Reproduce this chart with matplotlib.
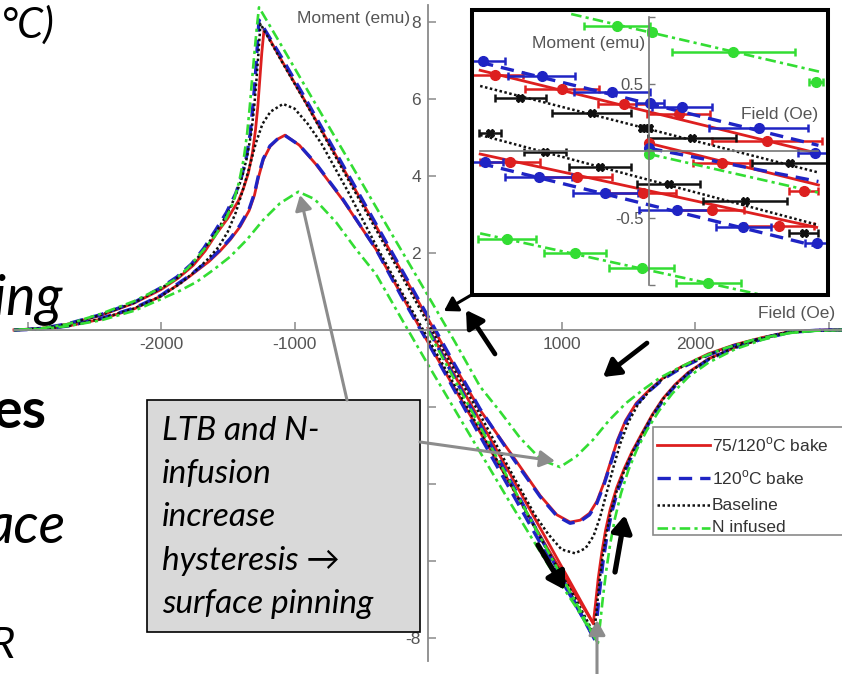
import matplotlib
matplotlib.use("Agg")
import matplotlib.pyplot as plt
from matplotlib.patches import Rectangle, FancyArrowPatch
from matplotlib.lines import Line2D

plt.rcParams['font.family'] = ['Liberation Sans', 'DejaVu Sans']
plt.rcParams['mathtext.fontset'] = 'custom'
plt.rcParams['mathtext.rm'] = 'Liberation Sans'

# ---------------- main loop data (Field in Oe, Moment in emu) ----------------
# field-decreasing branches (from +H to -H)
H_dec_red = [3100, 2900, 2700, 2500, 2300, 2100, 1900, 1760, 1660, 1560, 1480, 1420, 1370, 1320, 1265, 1210, 1140, 1064, 965, 840, 640, 390, 200, 0,
             -300, -600, -900, -1100, -1228, -1245, -1260, -1275, -1292, -1315, -1346, -1385, -1421, -1500, -1583, -1670, -1758, -1870, -2000, -2200, -2450, -2700, -2900, -3100]
M_dec_red = [0.0, -0.01, -0.05, -0.2, -0.38, -0.62, -0.95, -1.25, -1.55, -1.9, -2.35, -2.85, -3.4, -3.95, -4.45, -4.76, -4.94, -4.99, -4.8, -4.3, -3.3, -2.08, -0.95, 0.29,
             2.15, 3.98, 5.82, 7.02, 7.81, 7.2, 6.5, 5.8, 5.2, 4.6, 4.07, 3.65, 3.35, 2.9, 2.51, 2.05, 1.68, 1.35, 1.05, 0.7, 0.38, 0.15, 0.04, 0.0]
H_inc_red = [-3100, -2900, -2700, -2450, -2200, -2000, -1858, -1790, -1708, -1640, -1558, -1480, -1408, -1340, -1300, -1271, -1234, -1184, -1130, -1071, -964, -839, -639, -390, -200, 0,
             300, 600, 900, 1100, 1238, 1255, 1275, 1301, 1330, 1365, 1413, 1470, 1530, 1600, 1680, 1760, 1850, 1950, 2100, 2300, 2500, 2700, 2900, 3100]
M_inc_red = [0.0, 0.02, 0.1, 0.28, 0.55, 0.88, 1.21, 1.38, 1.6, 1.78, 2.05, 2.35, 2.68, 3.1, 3.5, 3.95, 4.42, 4.76, 4.95, 5.06, 4.8, 4.3, 3.38, 2.1, 0.92, -0.32,
             -2.12, -3.9, -5.7, -6.85, -7.62, -7.1, -6.45, -5.8, -5.2, -4.65, -4.1, -3.6, -3.15, -2.7, -2.2, -1.78, -1.42, -1.1, -0.75, -0.45, -0.23, -0.06, -0.01, 0.0]

H_dec_blue = [3100, 2900, 2700, 2500, 2300, 2100, 1900, 1760, 1660, 1560, 1480, 1420, 1370, 1320, 1265, 1210, 1140, 1064, 965, 840, 640, 390, 200, 0,
              -300, -600, -900, -1100, -1266, -1280, -1295, -1312, -1332, -1360, -1395, -1440, -1510, -1590, -1680, -1770, -1880, -2000, -2200, -2450, -2700, -2900, -3100]
M_dec_blue = [0.0, -0.01, -0.05, -0.22, -0.4, -0.65, -0.98, -1.28, -1.58, -1.94, -2.4, -2.9, -3.45, -4.0, -4.5, -4.8, -4.97, -5.02, -4.83, -4.33, -3.35, -2.05, -0.9, 0.35,
              2.2, 4.05, 5.9, 7.1, 8.05, 7.3, 6.5, 5.8, 5.1, 4.5, 4.0, 3.55, 3.05, 2.6, 2.12, 1.72, 1.38, 1.1, 0.72, 0.4, 0.16, 0.04, 0.0]
H_inc_blue = [-3100, -2900, -2700, -2450, -2200, -2000, -1858, -1790, -1708, -1640, -1558, -1480, -1408, -1340, -1300, -1271, -1234, -1184, -1130, -1071, -964, -839, -639, -390, -200, 0,
              300, 600, 900, 1100, 1250, 1265, 1285, 1310, 1338, 1372, 1418, 1475, 1535, 1605, 1685, 1765, 1855, 1955, 2100, 2300, 2500, 2700, 2900, 3100]
M_inc_blue = [0.0, 0.02, 0.1, 0.3, 0.57, 0.9, 1.24, 1.4, 1.63, 1.81, 2.08, 2.38, 2.72, 3.14, 3.55, 4.0, 4.45, 4.78, 4.95, 5.05, 4.8, 4.32, 3.4, 2.1, 0.88, -0.33,
              -2.2, -4.05, -5.9, -7.1, -8.05, -7.5, -6.8, -6.05, -5.4, -4.8, -4.2, -3.68, -3.2, -2.74, -2.23, -1.8, -1.44, -1.12, -0.77, -0.46, -0.24, -0.07, -0.01, 0.0]

H_dec_black = [3100, 2900, 2700, 2500, 2300, 2100, 1900, 1760, 1660, 1570, 1500, 1440, 1390, 1340, 1290, 1240, 1180, 1101, 1000, 900, 800, 600, 390, 200, 0,
               -300, -600, -900, -1100, -1255, -1270, -1286, -1303, -1325, -1355, -1392, -1440, -1505, -1585, -1675, -1765, -1875, -2000, -2200, -2450, -2700, -2900, -3100]
M_dec_black = [0.0, -0.01, -0.05, -0.21, -0.39, -0.64, -0.96, -1.26, -1.58, -1.95, -2.4, -2.95, -3.55, -4.2, -4.85, -5.35, -5.67, -5.8, -5.7, -5.3, -4.8, -3.55, -2.2, -1.05, 0.17,
               2.05, 3.92, 5.8, 7.0, 7.95, 7.2, 6.45, 5.75, 5.1, 4.5, 3.98, 3.5, 3.0, 2.56, 2.1, 1.7, 1.36, 1.08, 0.71, 0.39, 0.15, 0.04, 0.0]
H_inc_black = [-3100, -2900, -2700, -2450, -2200, -2000, -1858, -1760, -1660, -1570, -1500, -1440, -1390, -1340, -1290, -1240, -1180, -1086, -1000, -900, -800, -600, -390, -200, 0,
               300, 600, 900, 1100, 1245, 1262, 1282, 1306, 1335, 1370, 1416, 1472, 1532, 1602, 1682, 1762, 1852, 1952, 2100, 2300, 2500, 2700, 2900, 3100]
M_inc_black = [0.0, 0.02, 0.1, 0.29, 0.56, 0.88, 1.2, 1.48, 1.8, 2.15, 2.55, 3.05, 3.6, 4.2, 4.85, 5.35, 5.67, 5.87, 5.75, 5.35, 4.85, 3.6, 2.2, 1.0, -0.22,
               -2.05, -3.9, -5.75, -6.95, -7.9, -7.3, -6.6, -5.92, -5.3, -4.72, -4.15, -3.64, -3.17, -2.72, -2.21, -1.79, -1.43, -1.11, -0.76, -0.45, -0.23, -0.06, -0.01, 0.0]

H_dec_green = [3100, 2900, 2700, 2450, 2200, 2000, 1858, 1733, 1608, 1483, 1358, 1234, 1109, 989, 850, 689, 540, 390, 200, 0,
               -300, -600, -900, -1100, -1266, -1281, -1300, -1318, -1335, -1355, -1380, -1415, -1460, -1520, -1600, -1700, -1800, -1900, -2000, -2200, -2450, -2700, -2900, -3100]
M_dec_green = [0.0, -0.02, -0.08, -0.24, -0.5, -0.78, -1.02, -1.25, -1.56, -1.9, -2.34, -2.86, -3.29, -3.56, -3.38, -2.8, -2.12, -1.47, -0.3, 0.89,
               2.66, 4.44, 6.21, 7.4, 8.38, 7.9, 7.2, 6.5, 5.8, 5.1, 4.45, 3.85, 3.3, 2.85, 2.42, 2.0, 1.6, 1.3, 1.1, 0.75, 0.42, 0.15, 0.04, 0.0]
H_inc_green = [-3100, -2900, -2700, -2450, -2200, -2000, -1858, -1733, -1608, -1483, -1358, -1234, -1109, -971, -850, -689, -540, -390, -200, 0,
               300, 600, 900, 1100, 1273, 1290, 1310, 1335, 1365, 1400, 1445, 1500, 1565, 1640, 1730, 1830, 1950, 2100, 2300, 2500, 2700, 2900, 3100]
M_inc_green = [0.0, 0.02, 0.1, 0.25, 0.5, 0.8, 1.02, 1.25, 1.56, 1.9, 2.34, 2.86, 3.29, 3.59, 3.4, 2.8, 2.1, 1.45, 0.3, -0.9,
               -2.65, -4.4, -6.1, -7.15, -8.13, -7.6, -6.95, -6.25, -5.55, -4.9, -4.25, -3.65, -3.1, -2.6, -2.1, -1.65, -1.22, -0.85, -0.5, -0.26, -0.08, -0.02, 0.0]

# initial (virgin) magnetisation from zero field
H_vir_red, M_vir_red = [0, 600, 1238], [0.05, -3.65, -7.62]
H_vir_blue, M_vir_blue = [0, 600, 1250], [0.02, -3.8, -8.05]
H_vir_green, M_vir_green = [0, 600, 1273], [-0.02, -3.85, -8.13]

field_ticks = [-3000, -2000, -1000, 1000, 2000, 3000]
field_tick_labels = ['', '-2000', '-1000', '1000', '2000', '']
moment_ticks = [-8, -6, -4, -2, 2, 4, 6, 8]
moment_tick_labels = ['-8', '-6', '-4', '-2', '2', '4', '6', '8']

legend_labels = ['75/120$^{\\mathrm{o}}$C bake', '120$^{\\mathrm{o}}$C bake', 'Baseline', 'N infused']

# ---------------- low-field detail (inset) ----------------
ins_red_up_H = [-43.5, -24.6, -7.1, 8.3, 33.2]
ins_red_up_M = [0.565, 0.458, 0.346, 0.274, 0.072]
ins_red_up_E = [8.0, 10.4, 7.3, 9.0, 15.5]
ins_red_lo_H = [-39.2, -20.4, -1.8, 17.7, 36.8]
ins_red_lo_M = [-0.082, -0.194, -0.318, -0.443, -0.562]
ins_red_lo_E = [8.5, 10.0, 9.4, 9.0, 9.8]
ins_red_vi_H = [0.0, 20.5, 43.6]
ins_red_vi_M = [0.055, -0.094, -0.30]
ins_red_vi_E = [0.5, 8.0, 4.0]

ins_blue_up_H = [-46.8, -30.3, -10.5, 0.2, 9.2, 30.9, 46.9]
ins_blue_up_M = [0.672, 0.557, 0.44, 0.354, 0.324, 0.169, -0.02]
ins_blue_up_E = [6.0, 9.4, 10.8, 4.0, 8.5, 13.9, 5.0]
ins_blue_lo_H = [-46.3, -31.2, -12.4, 7.8, 26.6, 47.5]
ins_blue_lo_M = [-0.082, -0.199, -0.318, -0.443, -0.567, -0.691]
ins_blue_lo_E = [5.0, 9.4, 9.2, 10.6, 7.8, 3.5]
ins_blue_vi_H = [0.0]
ins_blue_vi_M = [0.018]
ins_blue_vi_E = [0.5]

ins_black_up_H = [-36.4, -16.2, -2.1, 0.0, 12.0, 39.8]
ins_black_up_M = [0.396, 0.279, 0.172, 0.172, 0.097, -0.09]
ins_black_up_E = [7.2, 11.1, 0.5, 0.5, 12.4, 10.8]
ins_black_lo_H = [-44.9, -29.4, -13.8, 5.5, 27.1, 43.6]
ins_black_lo_M = [0.13, -0.007, -0.119, -0.251, -0.373, -0.617]
ins_black_lo_E = [3.0, 6.0, 8.7, 8.8, 11.8, 4.0]

ins_green_up_H = [-9.1, 0.8, 23.8, 47.0]
ins_green_up_M = [0.93, 0.888, 0.739, 0.515]
ins_green_up_E = [9.4, 1.0, 17.4, 2.0]
ins_green_lo_H = [-40.2, -20.9, -2.1, 16.7]
ins_green_lo_M = [-0.661, -0.766, -0.878, -0.985]
ins_green_lo_E = [8.2, 8.7, 9.2, 9.2]
ins_green_vi_H = [0.0]
ins_green_vi_M = [-0.025]
ins_green_vi_E = [0.5]

# straight fits through the low-field points
fit_red = [([-47.7, 47.7], [0.60, -0.02]), ([-47.7, 47.3], [-0.025, -0.572]), ([0.0, 47.8], [0.055, -0.256])]
fit_blue = [([-47.7, 47.8], [0.66, 0.04]), ([-47.7, 47.8], [-0.094, -0.716]), ([0.0, 47.8], [0.018, -0.23])]
fit_black = [([-47.7, 48.0], [0.483, -0.164]), ([-47.7, 47.8], [0.117, -0.555])]
fit_green = [([-22.0, 48.0], [1.02, 0.59]), ([-47.7, 48.0], [-0.617, -1.17]), ([0.0, 47.8], [-0.025, -0.313])]

# ---------------- styles ----------------
RED, BLUE, BLACK, GREEN = '#dd1f1f', '#1f24c4', '#111111', '#33dd33'
styles = {
    'red': dict(color=RED, ls='-', lw=2.0),
    'blue': dict(color=BLUE, ls=(0, (4.0, 2.4)), lw=2.4),
    'black': dict(color=BLACK, ls=(0, (1.0, 1.0)), lw=1.8),
    'green': dict(color=GREEN, ls=(0, (4.0, 1.6, 1.2, 1.6)), lw=1.9),
}
AXG = '#8a8a8a'
TXG = '#555555'

W, H = 842, 674
fig = plt.figure(figsize=(W / 100, H / 100), dpi=100)

# ---------------- main axes ----------------
ax = fig.add_axes([0, 0, 1, 1], zorder=1)
ax.set_xlim(-3206, 3101)
ax.set_ylim(-8.935, 8.57)
ax.patch.set_alpha(0)
for s in ('top', 'right'):
    ax.spines[s].set_visible(False)
ax.spines['left'].set_position(('data', 0))
ax.spines['bottom'].set_position(('data', 0))
ax.spines['left'].set_bounds(-8.6, 8.45)
ax.spines['bottom'].set_bounds(-3100, 3101)
for s in ('left', 'bottom'):
    ax.spines[s].set_color(AXG)
    ax.spines[s].set_linewidth(1.3)
ax.set_xticks(field_ticks)
ax.set_xticklabels(field_tick_labels)
ax.set_yticks(moment_ticks)
ax.set_yticklabels(moment_tick_labels)
ax.tick_params(direction='in', length=5.8, width=1.1, color=AXG, labelcolor=TXG, labelsize=12.5)
ax.tick_params(axis='x', pad=5)
ax.tick_params(axis='y', pad=5)

series = [
    ('red', H_dec_red, M_dec_red, H_inc_red, M_inc_red, H_vir_red, M_vir_red),
    ('blue', H_dec_blue, M_dec_blue, H_inc_blue, M_inc_blue, H_vir_blue, M_vir_blue),
    ('black', H_dec_black, M_dec_black, H_inc_black, M_inc_black, None, None),
    ('green', H_dec_green, M_dec_green, H_inc_green, M_inc_green, H_vir_green, M_vir_green),
]
for key, hd, md, hi, mi, hv, mv in series:
    st = styles[key]
    for hh, mm in ((hd, md), (hi, mi), (hv, mv)):
        if hh is None:
            continue
        ax.plot(hh, mm, color=st['color'], ls=st['ls'], lw=st['lw'],
                solid_joinstyle='round', dash_capstyle='butt', clip_on=False)

# ---------------- inset axes ----------------
axi = fig.add_axes([472 / W, 1 - 295 / H, 356 / W, 285 / H], zorder=2)
axi.set_xlim(-50, 50.5)
axi.set_ylim(-1.077, 1.05)
for s in ('top', 'right'):
    axi.spines[s].set_visible(False)
axi.spines['left'].set_position(('data', 0))
axi.spines['bottom'].set_position(('data', 0))
axi.spines['left'].set_bounds(-1, 1)
axi.spines['bottom'].set_bounds(-47.7, 47.7)
for s in ('left', 'bottom'):
    axi.spines[s].set_color('#777777')
    axi.spines[s].set_linewidth(1.2)
axi.set_xticks([])
axi.set_yticks([-1, -0.5, 0.5, 1])
axi.set_yticklabels(['', '-0.5', '0.5', ''])
axi.tick_params(direction='in', length=4, width=1.0, color='#777777', labelcolor=TXG, labelsize=12, pad=4)

inset_sets = [
    ('red', fit_red, [(ins_red_up_H, ins_red_up_M, ins_red_up_E), (ins_red_lo_H, ins_red_lo_M, ins_red_lo_E),
                      (ins_red_vi_H, ins_red_vi_M, ins_red_vi_E)], 'o'),
    ('blue', fit_blue, [(ins_blue_up_H, ins_blue_up_M, ins_blue_up_E), (ins_blue_lo_H, ins_blue_lo_M, ins_blue_lo_E),
                        (ins_blue_vi_H, ins_blue_vi_M, ins_blue_vi_E)], 'o'),
    ('black', fit_black, [(ins_black_up_H, ins_black_up_M, ins_black_up_E),
                          (ins_black_lo_H, ins_black_lo_M, ins_black_lo_E)], 'X'),
    ('green', fit_green, [(ins_green_up_H, ins_green_up_M, ins_green_up_E), (ins_green_lo_H, ins_green_lo_M, ins_green_lo_E),
                          (ins_green_vi_H, ins_green_vi_M, ins_green_vi_E)], 'o'),
]
for key, fits, pts, mk in inset_sets:
    st = styles[key]
    for hh, mm in fits:
        axi.plot(hh, mm, color=st['color'], ls=st['ls'], lw=st['lw'])
    for hh, mm, ee in pts:
        axi.errorbar(hh, mm, xerr=ee, fmt=mk, color=st['color'], ms=7 if mk == 'o' else 6,
                     elinewidth=1.8, capsize=3, capthick=1.8)

# ---------------- overlay (pixel coordinates) ----------------
ov = fig.add_axes([0, 0, 1, 1], zorder=3)
ov.set_xlim(0, W)
ov.set_ylim(H, 0)
ov.axis('off')
ov.patch.set_alpha(0)

# axis titles
ov.text(410, 23, 'Moment (emu)', ha='right', va='baseline', fontsize=12.5, color=TXG)
ov.text(835, 318, 'Field (Oe)', ha='right', va='baseline', fontsize=12.5, color=TXG)
ov.text(645, 48, 'Moment (emu)', ha='right', va='baseline', fontsize=12.5, color=TXG)
ov.text(818, 119, 'Field (Oe)', ha='right', va='baseline', fontsize=12.5, color=TXG)

# inset frame
ov.add_patch(Rectangle((472, 10), 356, 285, fill=False, ec='black', lw=2.9))

# legend
ov.add_patch(Rectangle((653, 427), 200, 108, fc='white', ec='#8a8a8a', lw=1.2))
legend_rows = [445, 478, 505, 528]
for key, lab, yy in zip(('red', 'blue', 'black', 'green'), legend_labels, legend_rows):
    st = styles[key]
    ov.add_line(Line2D([657, 710], [yy, yy], color=st['color'], ls=st['ls'], lw=st['lw']))
    ov.text(712, yy, lab, ha='left', va='center', fontsize=12.5, color='#333333')

# annotation box
ov.add_patch(Rectangle((147, 400), 273, 232, fc='#d9d9d9', ec='black', lw=1.2))
box_lines = ['LTB and N-', 'infusion', 'increase', 'hysteresis \u2192', 'surface pinning']
for i, t in enumerate(box_lines):
    ov.text(162, 440 + 43.2 * i, t, ha='left', va='baseline', fontsize=24, style='italic',
            family=['Lato', 'DejaVu Sans'], color='black')

# callout arrows
def arrow(p0, p1, color, lw, hw, hl):
    a = FancyArrowPatch(p0, p1, arrowstyle=f'-|>,head_width={hw},head_length={hl}',
                        color=color, lw=lw, shrinkA=0, shrinkB=0, mutation_scale=1)
    ov.add_patch(a)

GRAY = '#8c8c8c'
arrow((347, 400), (300, 195), GRAY, 2.2, 5, 9)
arrow((420, 442), (555, 461), GRAY, 2.2, 5, 9)
arrow((597, 680), (597, 620), GRAY, 2.2, 5, 9)

arrow((495, 354), (466, 310), 'black', 3.4, 6, 10)
arrow((473, 294), (444, 311), 'black', 2.2, 5, 8)
arrow((647, 343), (603, 377), 'black', 3.4, 6, 10)
arrow((538, 545), (565, 590), 'black', 3.8, 6, 10)
arrow((615, 572), (625, 515), 'black', 3.8, 6, 10)

# slide text fragments along the left edge
ov.text(55, 38, '\u00b0C)', ha='right', va='baseline', fontsize=30, style='italic', family=['Lato', 'DejaVu Sans'])
ov.text(63, 314, 'ning', ha='right', va='baseline', fontsize=40, style='italic', family=['Lato', 'DejaVu Sans'])
ov.text(46, 428, 'es', ha='right', va='baseline', fontsize=40, weight='bold', family=['Lato', 'DejaVu Sans'])
ov.text(66, 543, 'ace', ha='right', va='baseline', fontsize=40, style='italic', family=['Lato', 'DejaVu Sans'])
ov.text(15, 658, 'R', ha='right', va='baseline', fontsize=30, style='italic', family=['Lato', 'DejaVu Sans'])

fig.savefig('out.png', dpi=100)
